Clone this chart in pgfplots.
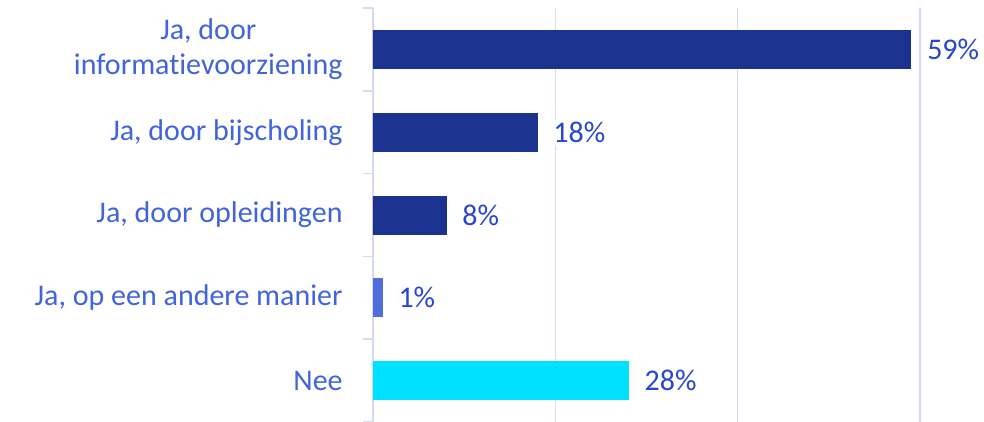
\documentclass[border=0pt]{standalone}
\usepackage{pgfplots}
\pgfplotsset{compat=1.18}
\usepackage{fontspec}
\setmainfont[Ligatures=CommonOff]{Carlito}
\definecolor{navy}{RGB}{27,50,143}
\definecolor{midblue}{RGB}{80,110,220}
\definecolor{cyanbar}{RGB}{0,224,255}
\definecolor{labblue}{RGB}{65,100,220}
\definecolor{valblue}{RGB}{40,70,210}
\definecolor{gridc}{RGB}{210,218,245}
\begin{document}
\begin{tikzpicture}
\begin{axis}[
  at={(0,0)}, anchor=south west,
  scale only axis, width=273.5pt, height=207pt,
  xbar, bar width=19pt, bar shift=0pt,
  xmin=0, xmax=60,
  ymin=-0.5, ymax=4.5, y dir=reverse,
  axis lines=left,
  x axis line style={draw=none},
  y axis line style={draw=gridc, line width=0.8pt, -},
  xtick={0,20,40,60}, xticklabels={}, xtick style={draw=none},
  xmajorgrids, grid style={draw=gridc, line width=0.8pt},
  ytick={0,1,2,3,4},
  yticklabels={{Ja, door\\informatievoorziening},{Ja, door bijscholing},{Ja, door opleidingen},{Ja, op een andere manier},{Nee}},
  ytick style={draw=gridc, line width=0.8pt},
  major tick length=0pt,
  minor ytick={-0.5,0.5,1.5,2.5,3.5,4.5},
  minor tick length=5pt, tick align=outside,
  yticklabel style={font=\fontsize{15}{17.5}\selectfont, text=labblue, align=center, inner sep=0pt},
  yticklabel shift=15pt,
  /pgf/number format/assume math mode=true,
  nodes near coords={\pgfmathprintnumber{\pgfplotspointmeta}\%},
  point meta=x,
  every node near coord/.append style={font=\fontsize{15}{17.5}\selectfont, text=valblue, fill=white, inner sep=1pt, anchor=west, xshift=7pt},
  clip=false,
]
\addplot[fill=navy, draw=navy] coordinates {(59,0) (18,1) (8,2)};
\addplot[fill=midblue, draw=midblue] coordinates {(1,3)};
\addplot[fill=cyanbar, draw=cyanbar] coordinates {(28,4)};
\end{axis}
\pgfresetboundingbox
\path[use as bounding box] (-186.5pt,0) rectangle (305.5pt,211pt);
\end{tikzpicture}
\end{document}
